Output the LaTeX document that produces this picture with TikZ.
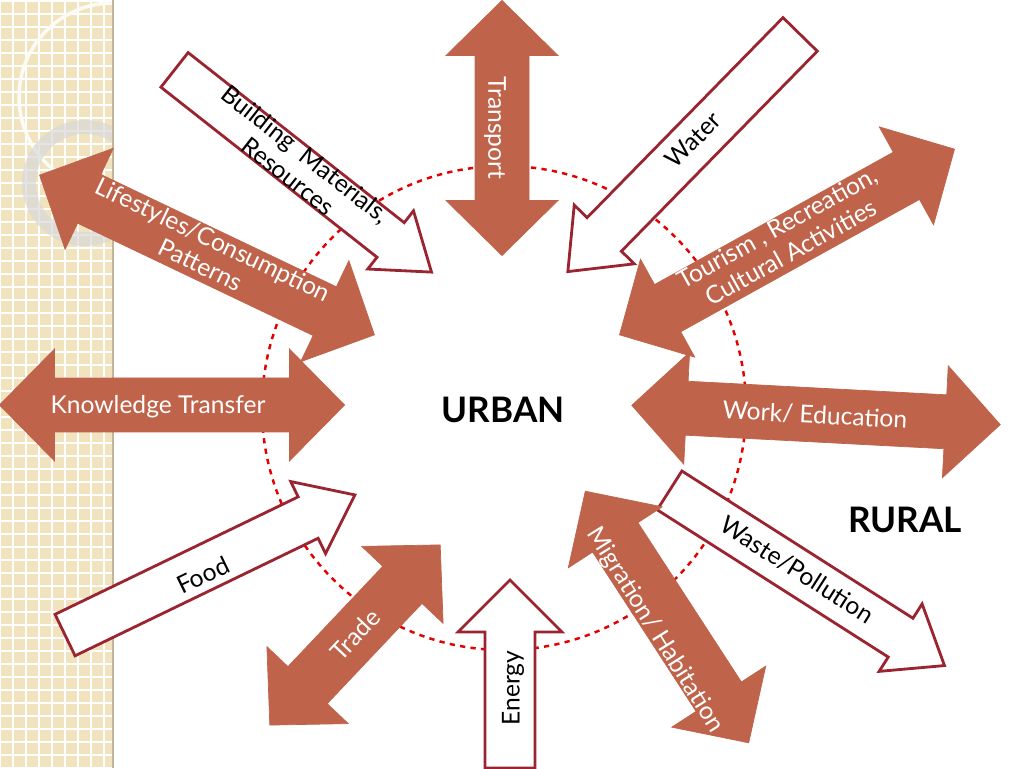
\documentclass[tikz,border=0pt]{standalone}
\usepackage{fontspec}
\setmainfont{Lato}
\usepackage{tikz}
\usetikzlibrary{calc}

\definecolor{brick}{HTML}{C0634B}
\definecolor{wine}{HTML}{9A2430}
\definecolor{sand}{HTML}{F1E3BD}

\tikzset{
  filled/.style={fill=brick,draw=brick},
  hollow/.style={fill=white,draw=wine,line width=1.6pt},
  lbl/.style={font=\fontsize{14}{16}\selectfont,align=center},
  lblw/.style={lbl,text=white},
}

% double headed arrow: center, angle, length
\newcommand{\twoway}[4][filled]{%
  \begin{scope}[shift={(#2)},rotate=#3]
    \path[#1] (-#4/2+55,-27) -- (#4/2-55,-27) -- (#4/2-55,-56) -- (#4/2,0)
      -- (#4/2-55,56) -- (#4/2-55,27) -- (-#4/2+55,27) -- (-#4/2+55,56)
      -- (-#4/2,0) -- (-#4/2+55,-56) -- cycle;
  \end{scope}}
% single headed arrow: center, angle, length, half body, half head
\newcommand{\oneway}[6][hollow]{%
  \begin{scope}[shift={(#2)},rotate=#3]
    \path[#1] (-#4/2,-#5) -- (#4/2-52,-#5) -- (#4/2-52,-#6) -- (#4/2,0)
      -- (#4/2-52,#6) -- (#4/2-52,#5) -- (-#4/2,#5) -- cycle;
  \end{scope}}

\begin{document}
\begin{tikzpicture}[x=0.02cm,y=0.02cm]
  \useasboundingbox (0,0) rectangle (1024,768);

  % Side band
  \begin{scope}
    \clip (0,0) rectangle (113,768);
    \fill[sand] (0,0) rectangle (113,768);
    \draw[white,line width=0.8pt,step=13] (0,0) grid (113,768);
    \draw[white!85!sand,line width=2pt] (113,671) circle (94);
    \draw[gray!30,line width=8pt,opacity=0.7] (85,585) circle (56);
  \end{scope}
  \draw[sand!80!black,line width=0.6pt] (113,0) -- (113,768);

  % Dashed ring
  \draw[red!90!black,dashed,line width=1.4pt] (504,360) circle (242);

  % Arrows with their labels
  \twoway{502,640}{90}{255}
  \node[lblw,rotate=-90] (transport) at (495,640) {Transport};

  \oneway{684,615}{225.6}{332}{24}{42}
  \node[lbl,rotate=45.6] (water) at (693,628) {Water};

  \twoway{787,526}{29}{383}
  \node[lblw,rotate=29] (tourism) at (784,528) {Tourism , Recreation,\\Cultural Activities};

  \twoway{816,353}{-3}{369}
  \node[lblw,rotate=-3] (work) at (815,353) {Work/ Education};

  \oneway{807,190}{-32.5}{326}{23}{40}
  \node[lbl,rotate=-32.5] (waste) at (797,198) {Waste/Pollution};

  \twoway{667,151}{-57}{300}
  \node[lblw,rotate=-58] (migration) at (655,138) {Migration/ Habitation};

  \oneway{510,94}{90}{188}{25}{52}
  \node[lbl,rotate=90] (energy) at (513,80) {Energy};

  \twoway{355,133}{46.6}{248}
  \node[lblw,rotate=46.6] (trade) at (355,133) {Trade};

  \oneway{210,203}{25.8}{322}{23}{40}
  \node[lbl,rotate=25.8] (food) at (203,193) {Food};

  \twoway{172,363}{0}{345}
  \node[lblw] (knowledge) at (158,361) {Knowledge Transfer};

  \oneway{303,597}{-38.2}{327}{22}{37}
  \node[lbl,rotate=-38.2] (building) at (297,603) {Building\ \ Materials,\\Resources};

  \twoway{207,513}{-25.5}{371}
  \node[lblw,rotate=-25.5] (lifestyles) at (207,516) {Lifestyles/Consumption\\Patterns};

  \node[font=\fontsize{20}{24}\selectfont\bfseries] (urban) at (503,358) {URBAN};
  \node[font=\fontsize{20}{24}\selectfont\bfseries] (rural) at (905,248) {RURAL};
\end{tikzpicture}
\end{document}
